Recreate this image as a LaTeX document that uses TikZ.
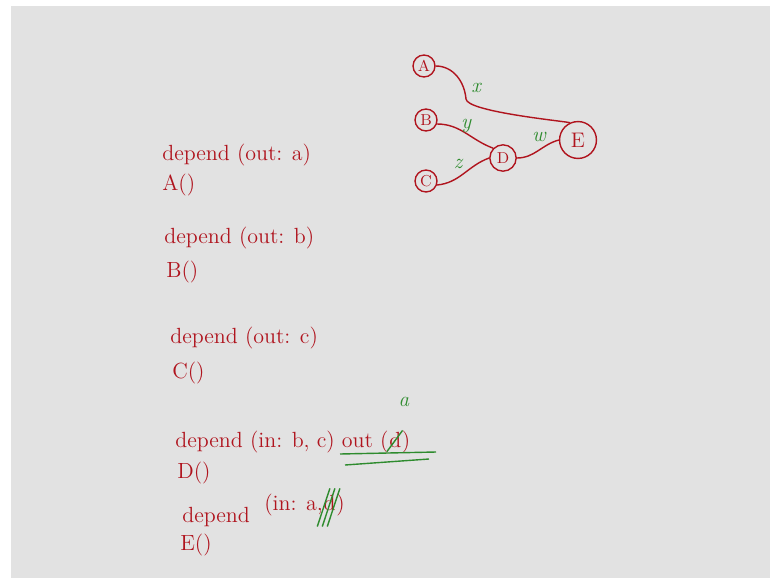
\documentclass[tikz,border=0pt]{standalone}
\usepackage{tikz}
\usetikzlibrary{positioning,calc}
\definecolor{inkred}{HTML}{B0141E}
\definecolor{inkgreen}{HTML}{2E8B2E}
\definecolor{board}{HTML}{E2E2E2}

\begin{document}
\begin{tikzpicture}[x=0.02cm,y=0.02cm,
  task/.style={draw=inkred,thick,circle,inner sep=0pt,text=inkred,font=\small,minimum size=12.5pt},
  dep/.style={thick,inkred},
  var/.style={text=inkgreen,font=\large\itshape},
  code/.style={anchor=base west,inner sep=0pt,text=inkred,font=\fontsize{12.5}{15}\selectfont}]
  \useasboundingbox (0,0) rectangle (770,-578);
  \fill[white] (0,0) rectangle (770,-578);
  \fill[board] (11,-6) rectangle (770,-578);

  % task graph
  \node[task] (A) at (424,-66) {A};
  \node[task] (B) at (426,-120) {B};
  \node[task] (C) at (426,-181) {C};
  \node[task,minimum size=15pt] (D) at (503,-158) {D};
  \node[task,minimum size=21pt,font=\large] (E) at (578,-140) {E};
  \coordinate (knee) at (466,-99);
  \draw[dep] (A.east) to[out=0,in=95] (knee) to[out=-85,in=170,looseness=0.3] (E.115);
  \draw[dep] (B.-20) to[out=0,in=160] (D.north west);
  \draw[dep] (C.-20) to[out=5,in=200] (D.west);
  \draw[dep] (D.east) to[out=0,in=195] (E.west);
  \node[var] (x) at (476,-88) {x};
  \node[var] (y) at (466,-126) {y};
  \node[var] (z) at (458,-164) {z};
  \node[var] (w) at (539,-137) {w};

  % annotated calls
  \node[code] (la) at (162,-160) {depend (out: a)};
  \node[code] (ta) at (162,-190) {A()};
  \node[code] (lb) at (164,-243) {depend (out: b)};
  \node[code] (tb) at (166,-277) {B()};
  \node[code] (lc) at (170,-343) {depend (out: c)};
  \node[code] (tc) at (172,-378) {C()};
  \node[code] (ld) at (175,-447) {depend (in: b, c) out (};
  \node[code] (dd) at (ld.base east) {d};
  \node[code] at (dd.base east) {)};
  \node[code] (td) at (177,-478) {D()};
  \node[code] (le) at (182,-522) {depend};
  \node[code] (ine) at (264,-510) {(in: a, };
  \node[code] (de) at (ine.base east) {d};
  \node[code] at (de.base east) {)};
  \node[code] (te) at (180,-550) {E()};

  % corrections
  \draw[inkgreen,thick] ($(dd.south west)+(-2,-4)$) -- ($(dd.north east)+(1,1)$);
  \node[var] at (404,-402) {a};
  \draw[inkgreen,thick] (340,-454) -- (436,-452);
  \draw[inkgreen,thick] (345,-465) -- (429,-459);
  \foreach \dx in {0,5,10}
    \draw[inkgreen,thick] ($(de.south west)+(\dx-6,-16)$) -- ($(de.north east)+(\dx-6,6)$);
\end{tikzpicture}
\end{document}
